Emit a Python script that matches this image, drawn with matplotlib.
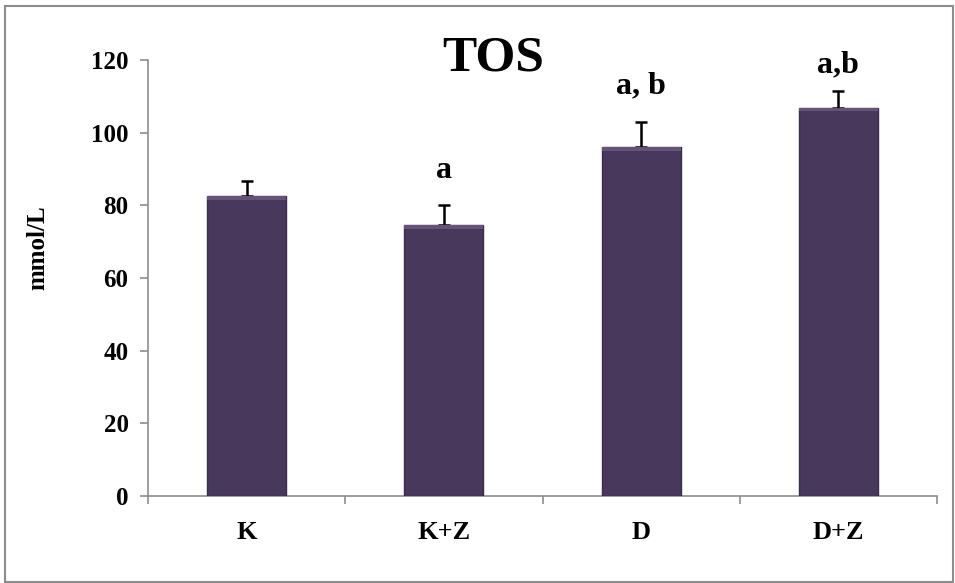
import matplotlib.pyplot as plt
from matplotlib.patches import Rectangle

# data
groups = ["K", "K+Z", "D", "D+Z"]
means = [82.5, 74.6, 96.0, 106.9]
errors = [4.3, 5.5, 7.0, 4.6]
sig_labels = ["", "a", "a, b", "a,b"]
label_y = [0, 89.7, 112.8, 118.6]

BAR_COLOR = "#47385c"
AXIS_COLOR = "#8c8c8c"

plt.rcParams["font.family"] = ["Liberation Serif", "DejaVu Serif"]
plt.rcParams["font.weight"] = "bold"

fig = plt.figure(figsize=(9.55, 5.83), dpi=100)
ax = fig.add_axes([148 / 955, 1 - 496 / 583, 789 / 955, 436 / 583])

# outer chart border
fig.patches.append(Rectangle((5 / 955, 1 / 583), 948 / 955, 576 / 583,
                             transform=fig.transFigure, fill=False,
                             edgecolor="#8c8c8c", lw=1.5))

x = list(range(len(groups)))
ax.bar(x, means, width=0.4, color=BAR_COLOR, edgecolor="#3a2c4c", lw=1.0,
       zorder=3)
# light bevel on top of each bar
ax.bar(x, [1.0] * len(x), bottom=[m - 1.0 for m in means], width=0.4,
       color="#64547a", lw=0, zorder=4)
ax.errorbar(x, means, yerr=[[0] * len(x), errors], fmt="none",
            ecolor="black", elinewidth=1.8, capsize=4.3, capthick=1.8,
            zorder=2)

for xi, lab, ly in zip(x, sig_labels, label_y):
    if lab:
        ax.text(xi, ly, lab, ha="center", va="center", fontsize=23,
                fontweight="bold")

ax.text(1.25, 120.5, "TOS", ha="center", va="center", fontsize=37,
        fontweight="bold")

ax.set_xlim(-0.5, 3.5)
ax.set_ylim(0, 120)
ax.set_yticks(range(0, 121, 20))
ax.set_xticks(x)
ax.set_xticklabels(groups)
ax.set_xticks([-0.5, 0.5, 1.5, 2.5, 3.5], minor=True)
ax.tick_params(axis="x", which="major", length=0, pad=18, labelsize=19)
ax.tick_params(axis="x", which="minor", length=6, color=AXIS_COLOR,
               width=1.2)
ax.tick_params(axis="y", length=6, color=AXIS_COLOR, width=1.2, pad=8,
               labelsize=18)
for lab in ax.get_xticklabels() + ax.get_yticklabels():
    lab.set_fontweight("bold")

for side in ["top", "right"]:
    ax.spines[side].set_visible(False)
for side in ["left", "bottom"]:
    ax.spines[side].set_color(AXIS_COLOR)
    ax.spines[side].set_linewidth(1.2)

ax.set_ylabel("mmol/L", fontsize=18, fontweight="bold")
ax.yaxis.set_label_coords(-0.125, 0.57)

fig.savefig("out.png", dpi=100)
